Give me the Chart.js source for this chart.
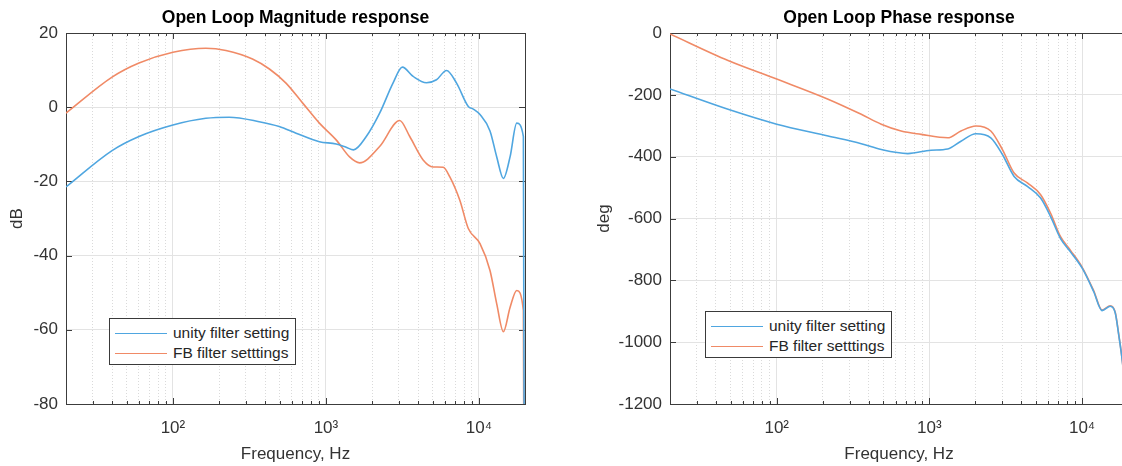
<!DOCTYPE html>
<html>
<head>
<meta charset="utf-8">
<script src="https://cdn.jsdelivr.net/npm/chart.js@4.4.0/dist/chart.umd.min.js"></script>
<style>
  html, body { margin: 0; padding: 0; background: #fff; }
  body { width: 1122px; height: 466px; overflow: hidden; position: relative; font-family: 'Liberation Sans', Arial, sans-serif; }
  .box { position: absolute; top: 0; height: 466px; }
  #magBox { left: 0; width: 560px; }
  #phaseBox { left: 560px; width: 600px; }
  .legend { position: absolute; box-sizing: border-box; width: 187px; height: 47px; background: #fff;
            border: 1px solid #3a3a3a; padding: 4px 0 0 5px; font-size: 15.5px; color: #262626; }
  .legend .row { display: flex; align-items: center; height: 20px; white-space: nowrap; }
  .legend .swatch { width: 52px; height: 0; border-top: 1.5px solid; margin-right: 6px; }
</style>
</head>
<body>
<div class="box" id="magBox"><canvas id="magChart" width="560" height="466"></canvas></div>
<div class="box" id="phaseBox"><canvas id="phaseChart" width="600" height="466"></canvas></div>
<script>
// series names + colours
const seriesNames = ['unity filter setting', 'FB filter setttings'];
const seriesColors = ['#4fa6e0', '#f08a66'];

// log x axis ticks
const decadeTicks = [100, 1000, 10000];
const decadeLabels = ['10\u00b2', '10\u00b3', '10\u2074'];
const minorTicks = [30, 40, 50, 60, 70, 80, 90, 200, 300, 400, 500, 600, 700, 800, 900,
                    2000, 3000, 4000, 5000, 6000, 7000, 8000, 9000];

// magnitude (dB)
const magFreqUnity = [20, 40, 60, 100, 164, 233, 366, 495, 638, 906, 1166, 1356, 1514, 1835, 2244, 2743, 3160, 3715, 4540, 5280, 6140, 7140, 8520, 9180, 10160, 11810, 13070, 14450, 15970, 17660, 19520, 20000];
const magUnity = [-21.5, -11.7, -7.9, -4.8, -3.0, -2.7, -3.9, -5.2, -7.0, -9.3, -9.9, -10.8, -11.5, -7.9, -1.6, 6.5, 10.8, 8.3, 6.6, 7.4, 9.9, 6.5, 0.2, -0.5, -2.0, -6.4, -13.4, -19.2, -13.4, -4.3, -7.9, -200];
const magFreqFB = [20, 40, 60, 100, 164, 222, 331, 427, 548, 705, 906, 1166, 1427, 1660, 2244, 3033, 3530, 4317, 5015, 5833, 6453, 7500, 8520, 10160, 11810, 13070, 14450, 15970, 17660, 19520, 20000];
const magFB = [-1.6, 8.1, 11.9, 14.8, 15.9, 15.3, 13.0, 10.3, 6.5, 1.1, -4.3, -8.8, -13.4, -15.0, -10.6, -3.6, -7.9, -14.2, -16.1, -16.2, -18.8, -25.1, -32.7, -36.8, -44.0, -53.0, -60.5, -54.0, -49.4, -54.8, -200];

// phase (deg)
const phaseFreqUnity = [20, 48, 100, 217, 358, 484, 722, 1025, 1318, 1610, 2018, 2525, 3010, 3590, 4385, 5355, 6225, 7230, 8400, 10000, 11910, 13520, 15320, 16510, 17380, 18370, 20000];
const phaseUnity = [-181, -247, -295, -333, -358, -377, -390, -379, -375, -350, -326, -339, -393, -464, -496, -534, -594, -665, -708, -760, -836, -898, -884, -906, -976, -1063, -1250];
const phaseFreqFB = [20, 48, 100, 217, 358, 484, 653, 883, 1318, 1610, 2018, 2525, 3010, 3590, 4385, 5355, 6225, 7230, 8400, 10000, 11910, 13520, 15320, 16510, 17380, 18370, 20000];
const phaseFB = [-3, -89, -149, -214, -263, -295, -317, -328, -339, -317, -301, -317, -377, -453, -485, -523, -583, -659, -703, -757, -833, -896, -882, -904, -974, -1061, -1250];

const fontFamily = "'Liberation Sans', Arial, sans-serif";
const textColor = '#333333';
const tickFont = { family: fontFamily, size: 17 };
const labelFont = { family: fontFamily, size: 17 };

function pts(freqs, vals) {
  return freqs.map((f, i) => ({ x: f, y: vals[i] }));
}

function dataset(i, data) {
  return {
    label: seriesNames[i],
    data: data,
    borderColor: seriesColors[i],
    backgroundColor: seriesColors[i],
    borderWidth: 1.6,
    pointRadius: 0,
    cubicInterpolationMode: 'monotone',
    fill: false
  };
}

// axis box + inward ticks, like matlab
const framePlugin = {
  id: 'frame',
  beforeDatasetsDraw(chart) {
    const { ctx, chartArea: a, scales } = chart;
    ctx.save();
    ctx.strokeStyle = '#3c3c3c';
    ctx.lineWidth = 1;
    ctx.beginPath();
    scales.x.ticks.forEach(t => {
      const px = Math.round(scales.x.getPixelForValue(t.value)) + 0.5;
      const len = decadeTicks.includes(t.value) ? 6 : 3;
      ctx.moveTo(px, a.bottom); ctx.lineTo(px, a.bottom - len);
      ctx.moveTo(px, a.top); ctx.lineTo(px, a.top + len);
    });
    scales.y.ticks.forEach(t => {
      const py = Math.round(scales.y.getPixelForValue(t.value)) + 0.5;
      ctx.moveTo(a.left, py); ctx.lineTo(a.left + 6, py);
      ctx.moveTo(a.right, py); ctx.lineTo(a.right - 6, py);
    });
    ctx.stroke();
    ctx.strokeRect(Math.round(a.left) + 0.5, Math.round(a.top) + 0.5,
                   Math.round(a.right - a.left), Math.round(a.bottom - a.top));
    ctx.restore();
  }
};

function makeChart(id, title, datasets, y, padRight) {
  const isMajor = c => c.tick && decadeTicks.includes(c.tick.value);
  return new Chart(document.getElementById(id), {
    type: 'line',
    data: { datasets: datasets },
    options: {
      responsive: false,
      animation: false,
      layout: { padding: { left: 0, right: padRight, top: 0, bottom: 0 } },
      plugins: {
        legend: { display: false },
        tooltip: { enabled: false },
        title: {
          display: true, text: title, fullSize: false, color: '#000',
          font: { family: fontFamily, size: 17.5, weight: 'bold' },
          padding: { top: 8, bottom: 4 }
        }
      },
      scales: {
        x: {
          type: 'logarithmic', min: 20, max: 20000,
          afterBuildTicks: s => { s.ticks = decadeTicks.concat(minorTicks).sort((a, b) => a - b).map(v => ({ value: v })); },
          ticks: {
            autoSkip: false, maxRotation: 0, font: tickFont, color: textColor, padding: 14,
            callback: v => { const k = decadeTicks.indexOf(v); return k >= 0 ? decadeLabels[k] : ''; }
          },
          grid: { drawTicks: false, lineWidth: 1, color: c => isMajor(c) ? '#e3e3e3' : '#dadada' },
          border: { display: false, dash: c => isMajor(c) ? [] : [1, 2] },
          title: { display: true, text: 'Frequency, Hz', font: labelFont, color: textColor, padding: { top: 0, bottom: 1 } },
          afterFit: s => { s.height = 62; }
        },
        y: {
          min: y.min, max: y.max,
          ticks: { stepSize: y.step, font: tickFont, color: textColor, padding: 8, callback: v => String(v) },
          grid: { drawTicks: false, color: '#e3e3e3' },
          border: { display: false },
          title: { display: true, text: y.title, font: labelFont, color: textColor, padding: { top: y.titlePad, bottom: 0 } },
          afterFit: s => { s.width = y.width; }
        }
      }
    },
    plugins: [framePlugin]
  });
}

function addLegend(chart, holderId, left, top) {
  const box = document.createElement('div');
  box.className = 'legend';
  box.style.left = left + 'px';
  box.style.top = top + 'px';
  chart.data.datasets.forEach(ds => {
    const row = document.createElement('div');
    row.className = 'row';
    const sw = document.createElement('span');
    sw.className = 'swatch';
    sw.style.borderTopColor = ds.borderColor;
    const txt = document.createElement('span');
    txt.textContent = ds.label;
    row.appendChild(sw);
    row.appendChild(txt);
    box.appendChild(row);
  });
  document.getElementById(holderId).appendChild(box);
}

const magChart = makeChart('magChart', 'Open Loop Magnitude response',
  [dataset(0, pts(magFreqUnity, magUnity)), dataset(1, pts(magFreqFB, magFB))],
  { min: -80, max: 20, step: 20, title: 'dB', width: 66, titlePad: 7 }, 35);

const phaseChart = makeChart('phaseChart', 'Open Loop Phase response',
  [dataset(0, pts(phaseFreqUnity, phaseUnity)), dataset(1, pts(phaseFreqFB, phaseFB))],
  { min: -1200, max: 0, step: 200, title: 'deg', width: 110, titlePad: 34 }, 32);

addLegend(magChart, 'magBox', 109, 318);
addLegend(phaseChart, 'phaseBox', 145, 311);
</script>
</body>
</html>
